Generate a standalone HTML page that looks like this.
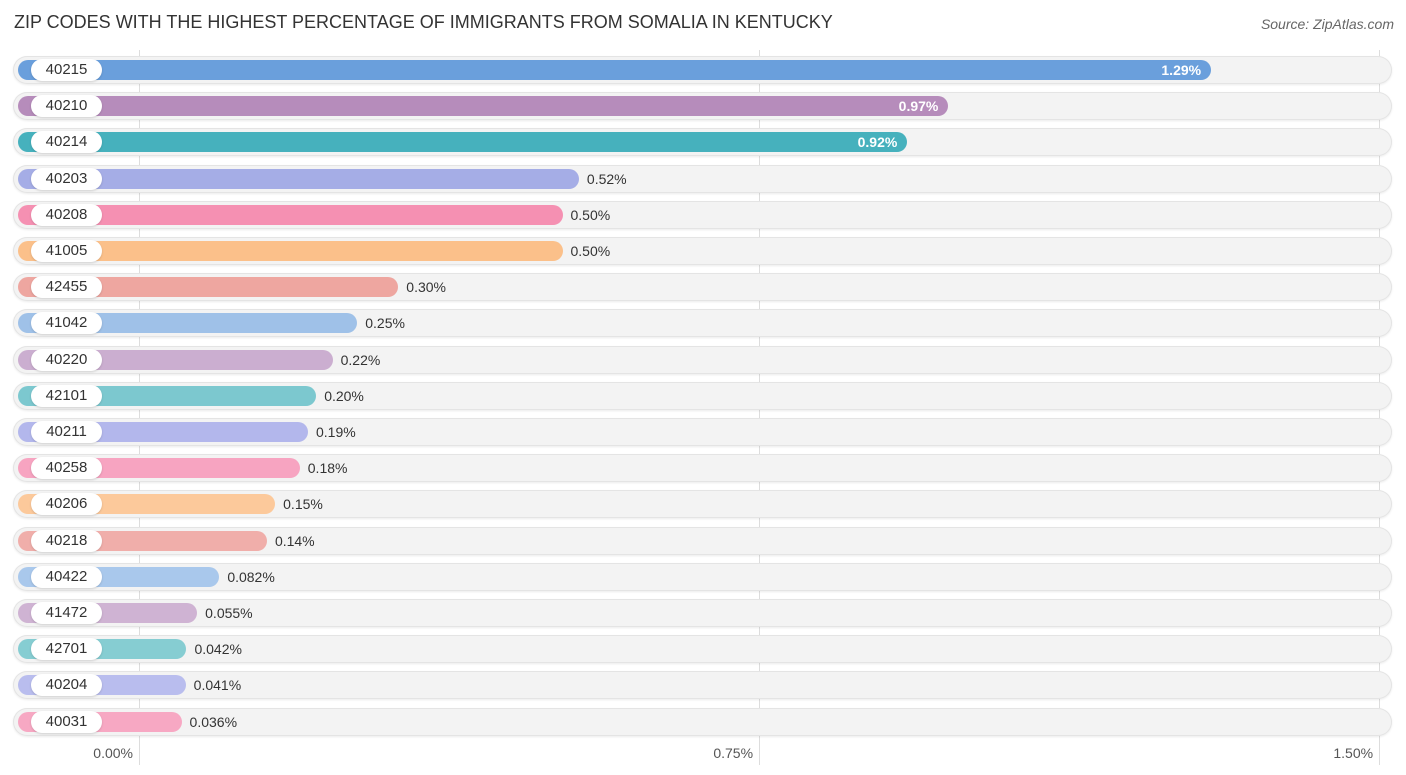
<!DOCTYPE html>
<html><head><meta charset="utf-8"><style>
body{margin:0;background:#fff;font-family:"Liberation Sans",sans-serif;}
#c{position:relative;width:1406px;height:775px;overflow:hidden;}
.title{position:absolute;left:14px;top:12px;font-size:18px;color:#333;}
.src{position:absolute;right:12px;top:16px;font-size:14px;color:#666;font-style:italic;}
.grid{position:absolute;top:50px;height:715px;width:1px;background:#ddd;}
.row{position:absolute;left:13px;width:1379px;height:28px;border-radius:14px;background:#f3f3f3;box-shadow:0 0 0 1px #e4e4e4 inset,0 1px 2px rgba(0,0,0,.08);}
.bar{position:absolute;left:18px;height:20px;border-radius:10px;}
.lab{position:absolute;left:31px;width:71px;height:22px;border-radius:11px;background:#fff;font-size:15px;color:#333;text-align:center;line-height:22px;box-shadow:0 1px 2px rgba(0,0,0,.15);}
.val{position:absolute;font-size:14px;line-height:20px;}
.tick{position:absolute;top:745px;font-size:14px;color:#555;}
</style></head><body>
<div id="c">
<div class="title">ZIP CODES WITH THE HIGHEST PERCENTAGE OF IMMIGRANTS FROM SOMALIA IN KENTUCKY</div>
<div class="src">Source: ZipAtlas.com</div>
</div>
<script>
const zips=["40215","40210","40214","40203","40208","41005","42455","41042","40220","42101","40211","40258","40206","40218","40422","41472","42701","40204","40031"];
const values=[1.29,0.97,0.92,0.52,0.50,0.50,0.30,0.25,0.22,0.20,0.19,0.18,0.15,0.14,0.082,0.055,0.042,0.041,0.036];
const valueLabels=["1.29%","0.97%","0.92%","0.52%","0.50%","0.50%","0.30%","0.25%","0.22%","0.20%","0.19%","0.18%","0.15%","0.14%","0.082%","0.055%","0.042%","0.041%","0.036%"];
const tickValues=[0,0.75,1.5];
const tickLabels=["0.00%","0.75%","1.50%"];
const colors=["#6a9fdc","#b68cbb","#46b1bd","#a5ade6","#f590b2","#fbc08a","#eea6a0","#9fc1e8","#cbaed0","#7cc8cf","#b3b7ec","#f7a4c1","#fcc99b","#f0aeaa","#a9c8ec","#cfb3d3","#86cdd2","#b9bdee","#f7a8c3"];
const c=document.getElementById('c');
const gx=v=>139+v*826.7;
const bx=v=>152+v*821;
const ry=i=>70+i*36.2;
tickValues.forEach((t,i)=>{
 const g=document.createElement('div');g.className='grid';g.style.left=gx(t)+'px';
 
 
 c.appendChild(g);
});
zips.forEach((z,i)=>{
 const y=ry(i);
 const r=document.createElement('div');r.className='row';r.style.top=(y-14)+'px';
 
 
 c.appendChild(r);
 const b=document.createElement('div');b.className='bar';b.style.top=(y-10)+'px';
 const end=bx(values[i]);b.style.width=(end-18)+'px';b.style.background=colors[i];
 
 
 c.appendChild(b);
 const l=document.createElement('div');l.className='lab';l.style.top=(y-11)+'px';l.textContent=z;
 
 
 c.appendChild(l);
 const v=document.createElement('div');v.className='val';v.style.top=(y-10)+'px';v.textContent=valueLabels[i];
 if(i<3){v.style.right=(1406-end+10)+'px';v.style.color='#fff';v.style.fontWeight='bold';}
 else{v.style.left=(end+8)+'px';v.style.color='#333';}
 
 
 c.appendChild(v);
});
tickValues.forEach((t,i)=>{
 const d=document.createElement('div');d.className='tick';d.style.right=(1406-gx(t)+6)+'px';d.textContent=tickLabels[i];
 
 
 c.appendChild(d);
});
</script>
</body></html>
